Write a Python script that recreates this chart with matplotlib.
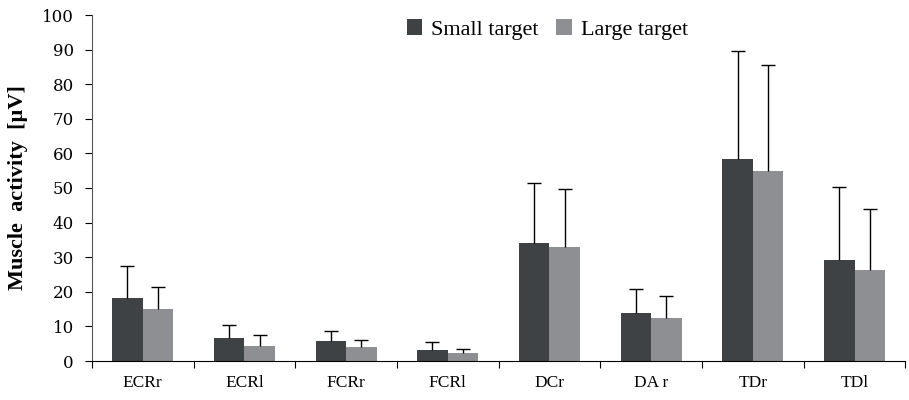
import numpy as np
import matplotlib.pyplot as plt

muscles = ["ECRr", "ECRl", "FCRr", "FCRl", "DCr", "DA r", "TDr", "TDl"]
small = [18.3, 6.6, 5.7, 3.2, 34.0, 14.0, 58.3, 29.3]
small_sd = [9.2, 3.8, 2.9, 2.4, 17.5, 6.8, 31.2, 20.9]
large = [15.0, 4.3, 4.0, 2.2, 33.0, 12.3, 55.0, 26.3]
large_sd = [6.3, 3.1, 2.1, 1.2, 16.7, 6.4, 30.6, 17.7]

plt.rcParams['font.family'] = ['Liberation Serif', 'DejaVu Serif']

fig = plt.figure(figsize=(9.09, 4.0), dpi=100)
ax = fig.add_axes([0.101, 0.0975, 0.895, 0.865])

x = np.arange(len(muscles))
w = 0.3
ax.bar(x - w/2, small, w, color="#3f4245", label="Small target", zorder=2)
ax.bar(x + w/2, large, w, color="#8e8f93", label="Large target", zorder=2)

# one-sided (upper) error bars only
for xs, vals, sd in [(x - w/2, small, small_sd), (x + w/2, large, large_sd)]:
    eb = ax.errorbar(xs, vals, yerr=[np.zeros(len(vals)), sd], fmt="none",
                     ecolor="black", elinewidth=1, capsize=5, capthick=1, zorder=3)
    eb[1][0].set_visible(False)

ax.set_xlim(-0.5, len(muscles) - 0.5)
ax.set_ylim(0, 100)
ax.set_yticks(np.arange(0, 101, 10))
ax.set_yticklabels([str(v) for v in range(0, 101, 10)], fontsize=12,
                   family="DejaVu Serif")
ax.set_xticks(x)
ax.set_xticklabels(muscles, fontsize=12.5)
ax.set_xticks(np.arange(-0.5, len(muscles)), minor=True)
ax.tick_params(axis="x", which="major", length=0, pad=10)
ax.tick_params(axis="x", which="minor", length=5, direction="out", width=0.8)
ax.tick_params(axis="y", length=5, direction="out", width=0.8, pad=8)

for s in ["top", "right"]:
    ax.spines[s].set_visible(False)
ax.spines["left"].set_color("#555555")
ax.spines["bottom"].set_color("black")

ax.set_ylabel("Muscle  activity  [µV]", fontsize=16, fontweight="bold", labelpad=10)

ax.legend(loc="upper center", bbox_to_anchor=(0.56, 1.045), ncol=2, frameon=False,
          fontsize=16, handlelength=0.7, handleheight=0.7, handletextpad=0.4,
          columnspacing=0.8)

fig.savefig("out.png", dpi=100)
